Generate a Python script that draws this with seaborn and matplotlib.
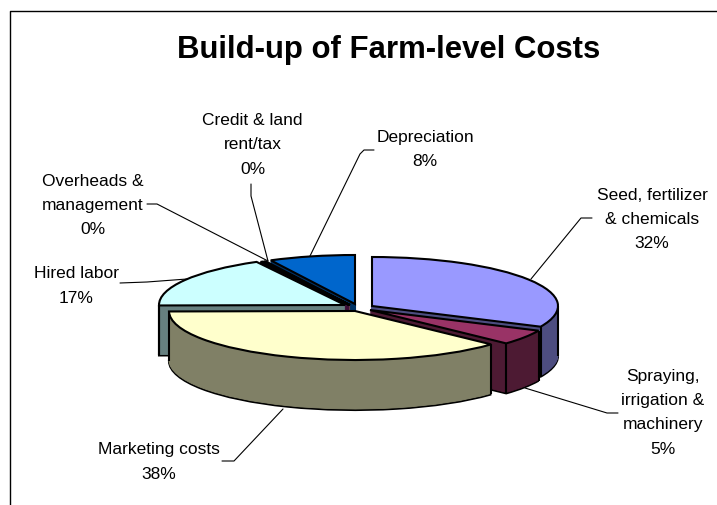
import numpy as np
import matplotlib
matplotlib.use("Agg")
import matplotlib.pyplot as plt
import seaborn as sns

# Cost shares in percent, clockwise from twelve o'clock
categories = ["Seed, fertilizer\n& chemicals", "Spraying,\nirrigation &\nmachinery",
              "Marketing costs", "Hired labor", "Overheads &\nmanagement",
              "Credit & land\nrent/tax", "Depreciation"]
shares = [32.0, 5.0, 38.0, 17.3, 0.2, 0.2, 7.5]
top_colors = ["#9999FF", "#993366", "#FFFFCC", "#CCFFFF", "#660066", "#FF8080", "#0066CC"]
title_text = "Build-up of Farm-level Costs"

WIDTH, HEIGHT = 717, 506
RX, RY, DEPTH = 186.0, 49.0, 50
CX, CY = 358.0, 306.0

# Pixel position of each exploded slice's apex
apex = [(372, 307), (370, 311), (355, 312), (345, 306), (349, 306), (350, 306), (355, 305)]
# Back-to-front painting rank of each slice
rank_of = {0: 4, 1: 5, 2: 6, 3: 3, 4: 2, 5: 1, 6: 0}

# Label centre, first-line y and leader polyline in pixel space
label_pos = [(652, 195), (663, 376), (159, 450), (76, 274), (93, 181), (252.5, 120), (425, 137)]
leaders = [
    [(592, 219), (581, 219), (531, 280)],
    [(618, 414), (607, 414), (525, 389)],
    [(222, 462), (234, 462), (283, 410)],
    [(120, 284), (147, 283), (187, 280)],
    [(147, 205), (157, 205), (268, 262)],
    [(251, 185), (251, 197), (268, 262)],
    [(374, 151), (364, 151), (360, 155), (310, 257)],
]

sns.set_theme(style="white")
plt.rcParams["font.family"] = ["Liberation Sans", "DejaVu Sans"]

palette = sns.color_palette(top_colors)
wall_colors = [tuple(np.array(c) * 0.5) for c in palette]

fig = plt.figure(figsize=(WIDTH / 100, HEIGHT / 100), dpi=100, facecolor="white")
ax = fig.add_axes([0, 0, 1, 1])


def to_data(px, py):
    return (px - CX) / RX, (CY - py) / RY


EDGE = 1.5
for layer in range(DEPTH, -1, -1):
    is_top = layer == 0
    is_bottom = layer == DEPTH
    colors = palette if is_top else wall_colors
    wedges, _ = ax.pie(shares, colors=colors, startangle=90, counterclock=False,
                       radius=1.0, normalize=True)
    for i, w in enumerate(wedges):
        cx, cy = to_data(*apex[i])
        w.set_center((cx, cy - layer / RY))
        w.set_zorder(rank_of[i] * 1000 + (DEPTH - layer))
        if is_top or is_bottom:
            w.set_edgecolor("black")
            w.set_linewidth(EDGE)
        else:
            w.set_edgecolor(colors[i])
            w.set_linewidth(0.6)
        if is_top:
            # Vertical creases of the extruded wall
            lo, hi = sorted((w.theta1, w.theta2))
            angles = [a for a in (lo, hi) if np.sin(np.radians(a)) <= 1e-6]
            angles += [a for a in (0, 180, -180) if lo < a < hi]
            for a in angles:
                xe = cx + np.cos(np.radians(a))
                ye = cy + np.sin(np.radians(a))
                ax.plot([xe, xe], [ye, ye - DEPTH / RY], color="black", lw=EDGE,
                        zorder=rank_of[i] * 1000 + DEPTH - 0.5, solid_capstyle="butt")

ax.set_aspect("auto")
ax.set_xlim((0 - CX) / RX, (WIDTH - CX) / RX)
ax.set_ylim((CY - HEIGHT) / RY, CY / RY)
ax.axis("off")

# Overlay in pixel coordinates for frame, title, labels and leaders
overlay = fig.add_axes([0, 0, 1, 1], facecolor="none")
overlay.set_xlim(0, WIDTH)
overlay.set_ylim(HEIGHT, 0)
overlay.axis("off")
overlay.plot([9.5, 9.5, WIDTH], [HEIGHT, 11.5, 11.5], color="black", lw=1.0, clip_on=False)
overlay.text(388.5, 50, title_text, ha="center", va="center", fontsize=22.4,
             fontweight="bold", color="black")

LINE_GAP = 24.5
for name, share, (lx, ly), path in zip(categories, shares, label_pos, leaders):
    lines = name.split("\n") + [f"{round(share)}%"]
    for j, line in enumerate(lines):
        overlay.text(lx, ly + j * LINE_GAP, line, ha="center", va="center",
                     fontsize=12.5, color="black")
    xs, ys = zip(*path)
    overlay.plot(xs, ys, color="black", lw=0.8)

fig.savefig("out.png", dpi=100, facecolor="white")
